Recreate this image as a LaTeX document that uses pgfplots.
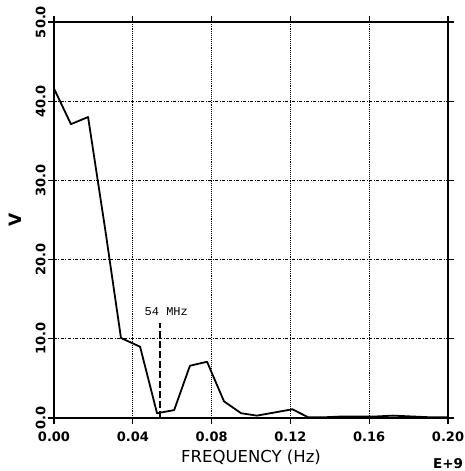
\documentclass[border=0pt]{standalone}
\usepackage{pgfplots}
\pgfplotsset{compat=1.18}
\usepackage{fontspec}
\setmainfont{DejaVu Sans}
\newfontfamily\monofont{Liberation Mono}
\begin{document}
\begin{tikzpicture}
\begin{axis}[
  scale only axis, width=394pt, height=396pt,
  xmin=0, xmax=0.2, ymin=0, ymax=50,
  clip=false,
  xtick={0,0.04,...,0.2}, ytick={0,10,...,50},
  xticklabels={0.00,0.04,0.08,0.12,0.16,0.20},
  yticklabels={0.0,10.0,20.0,30.0,40.0,50.0},
  scaled x ticks=false,
  tick align=outside, major tick length=6pt,
  tick style={black, line width=1.2pt},
  axis line style={line width=1.5pt},
  ticklabel style={font=\fontsize{13}{13}\selectfont\bfseries},
  yticklabel style={rotate=90, anchor=south, yshift=-1pt},
  xticklabel style={yshift=-4pt},
  /pgf/number format/assume math mode=true,
  grid=major,
  major x grid style={black, line width=0.9pt, densely dotted},
  major y grid style={black, line width=0.9pt, dash pattern=on 3pt off 1.5pt on 1pt off 1.5pt},
  xlabel={FREQUENCY (Hz)}, ylabel={V},
  xlabel style={font=\fontsize{16.5}{16.5}\selectfont, yshift=-2pt},
  ylabel style={font=\fontsize{17}{17}\selectfont\bfseries, yshift=7pt},
]
\addplot[black, line width=1.8pt, line join=round] coordinates {
  (0,41.6) (0.0086,37.1) (0.0173,38.0) (0.026,23.8) (0.034,10.1)
  (0.0437,9.0) (0.0523,0.6) (0.061,1.0) (0.069,6.6) (0.0777,7.1)
  (0.0863,2.1) (0.095,0.6) (0.103,0.3) (0.112,0.7) (0.121,1.1)
  (0.129,0.1) (0.138,0.1) (0.147,0.2) (0.155,0.2) (0.164,0.2)
  (0.172,0.3) (0.181,0.2) (0.19,0.1) (0.2,0.1)
};
\addplot[black, line width=2pt, dash pattern=on 7pt off 3pt] coordinates {(0.054,0) (0.054,12)};
\node[font=\monofont\fontsize{12}{12}\selectfont] at (axis cs:0.057,13.4) {54 MHz};
\node[font=\fontsize{13.5}{13.5}\selectfont\bfseries] at (axis cs:0.2,-5.7) {E+9};
\coordinate (sw) at (rel axis cs:0,0);
\coordinate (ne) at (rel axis cs:1,1);
\end{axis}
\pgfresetboundingbox
\path ([shift={(-54pt,-53pt)}]sw) rectangle ([shift={(17pt,22pt)}]ne);
\end{tikzpicture}
\end{document}
